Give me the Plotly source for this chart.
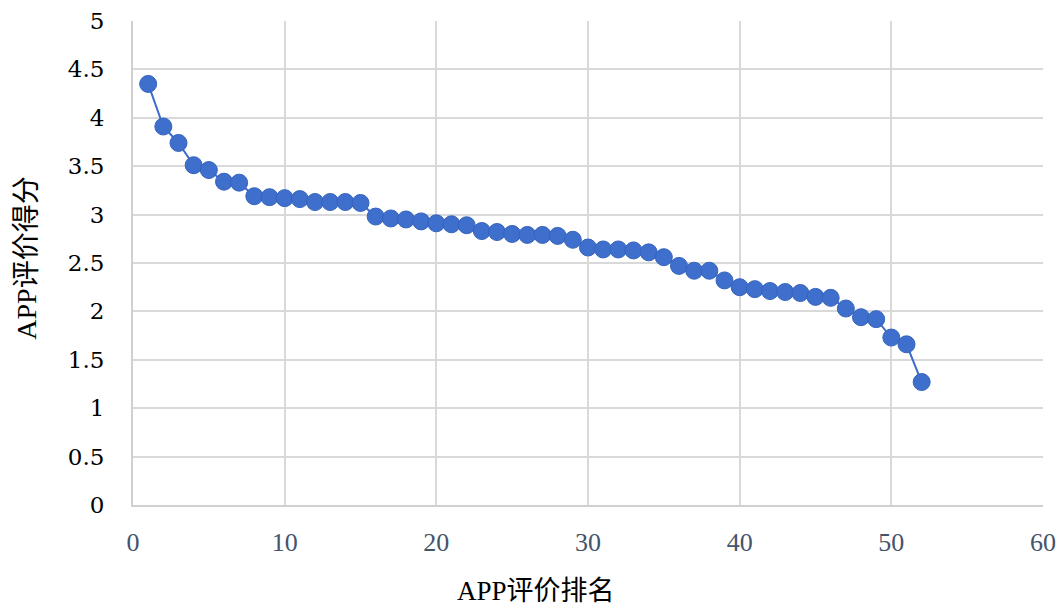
import plotly.graph_objects as go

ranks = list(range(1, 53))
scores = [4.35, 3.91, 3.74, 3.51, 3.46, 3.34, 3.33, 3.19, 3.18, 3.17,
          3.16, 3.13, 3.13, 3.13, 3.12, 2.98, 2.96, 2.95, 2.93, 2.91,
          2.90, 2.89, 2.83, 2.82, 2.80, 2.79, 2.79, 2.78, 2.74, 2.66,
          2.64, 2.64, 2.63, 2.61, 2.56, 2.47, 2.42, 2.42, 2.32, 2.25,
          2.23, 2.21, 2.20, 2.19, 2.15, 2.14, 2.03, 1.94, 1.92, 1.73,
          1.66, 1.27]
x_ticks = [0, 10, 20, 30, 40, 50, 60]
y_ticks = [0, 0.5, 1, 1.5, 2, 2.5, 3, 3.5, 4, 4.5, 5]
y_tick_text = ["0", "0.5", "1", "1.5", "2", "2.5", "3", "3.5", "4", "4.5", "5"]
x_title = "APP评价排名"
y_title = "APP评价得分"

fig = go.Figure()
fig.add_trace(go.Scatter(
    x=ranks, y=scores, mode="lines+markers",
    line=dict(color="#3D6CC8", width=2),
    marker=dict(size=17, color="#3F6FCC", line=dict(color="#3563BC", width=1)),
    showlegend=False,
))

serif = "DejaVu Serif, Liberation Serif, serif"
cjk = "Liberation Serif, Noto Sans CJK SC, serif"

fig.update_layout(
    width=1064, height=609,
    margin=dict(l=125, r=29, t=13, b=112),
    paper_bgcolor="white", plot_bgcolor="white",
    xaxis=dict(
        range=[0, 60], tickvals=x_ticks, showgrid=True, gridcolor="#D9D9D9", gridwidth=2,
        showline=True, linecolor="#D0D0D0", linewidth=2, zeroline=False,
        ticks="outside", ticklen=13, tickcolor="rgba(0,0,0,0)", automargin=False,
        tickfont=dict(family="Liberation Serif, serif", size=26, color="#44546A"),
    ),
    yaxis=dict(
        range=[0, 5], tickvals=y_ticks, ticktext=y_tick_text, showgrid=True,
        gridcolor="#D9D9D9", gridwidth=2,
        showline=True, linecolor="#D0D0D0", linewidth=2, zeroline=False,
        ticks="outside", ticklen=22, tickcolor="rgba(0,0,0,0)", automargin=False,
        tickfont=dict(family=serif, size=23, color="black"),
    ),
    annotations=[
        dict(text=x_title, xref="paper", yref="paper", x=0.443, y=-0.178,
             xanchor="center", yanchor="middle", showarrow=False,
             font=dict(family=cjk, size=27, color="black")),
        dict(text=y_title, xref="paper", yref="paper", x=-0.117, y=0.51,
             xanchor="center", yanchor="middle", showarrow=False, textangle=-90,
             font=dict(family=cjk, size=28, color="black")),
    ],
)

fig.write_html("out.html")
